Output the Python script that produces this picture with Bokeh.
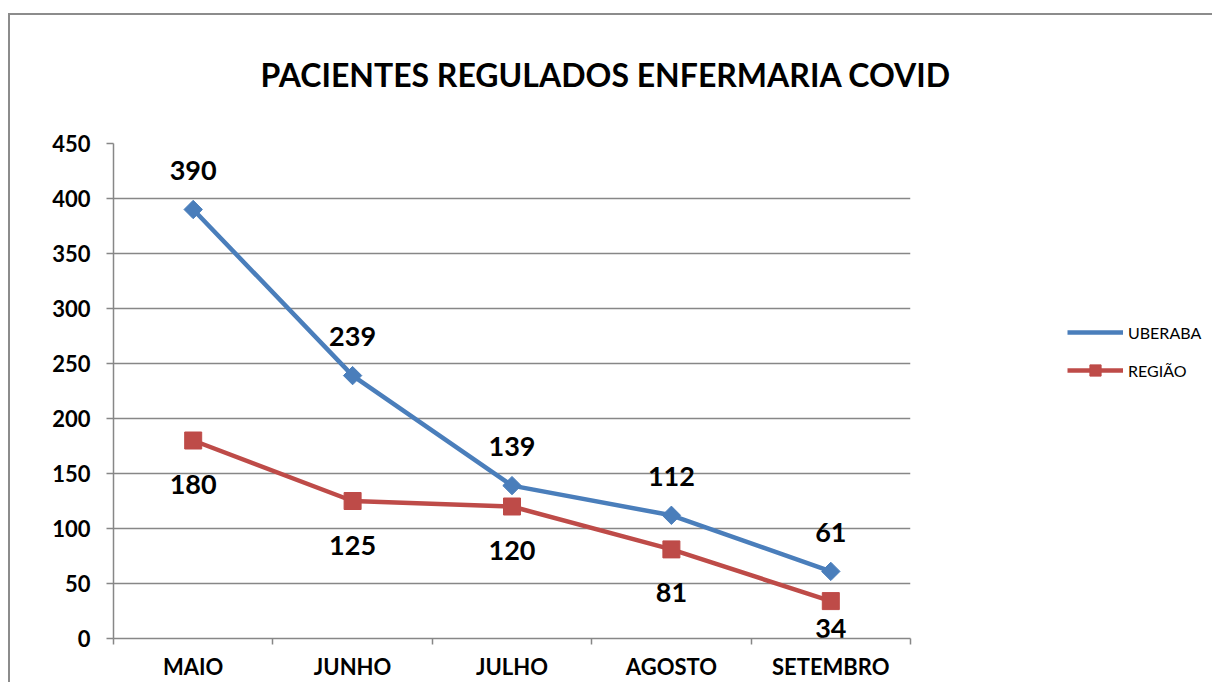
import math
from bokeh.plotting import figure
from bokeh.models import Range1d, FixedTicker, Legend, LegendItem, Title
from bokeh.core.properties import value
from bokeh.embed import file_html
from bokeh.resources import INLINE

# ---- data ----
months = ["MAIO", "JUNHO", "JULHO", "AGOSTO", "SETEMBRO"]
uberaba = [390, 239, 139, 112, 61]
regiao = [180, 125, 120, 81, 34]
y_ticks = [0, 50, 100, 150, 200, 250, 300, 350, 400, 450]
series_names = ["UBERABA", "REGIÃO"]
title_text = "PACIENTES REGULADOS ENFERMARIA COVID"

# ---- style ----
BLUE = "#4a7ebb"
RED = "#be4b48"
GRID = "#878787"
FONT = "Lato"
blue_label_offsets = [-39, -39, -39, -39, -39]
red_label_offsets = [44, 44, 44, 43, 27]

xs = [i + 0.5 for i in range(len(months))]

p = figure(frame_width=797, frame_height=495,
           x_range=Range1d(0, len(months)), y_range=Range1d(0, 450),
           output_backend="svg", toolbar_location=None,
           min_border_left=103, min_border_right=302,
           min_border_top=128, min_border_bottom=44)
p.margin = (13, 0, 0, 8)
p.styles = {"border-top": "2px solid #8c8c8c", "border-left": "2px solid #8c8c8c"}
p.background_fill_color = "white"
p.border_fill_color = "white"
p.outline_line_color = None

# grid
p.xgrid.grid_line_color = None
p.ygrid.ticker = FixedTicker(ticks=y_ticks)
p.ygrid.grid_line_color = GRID
p.ygrid.grid_line_width = 1.5

# y axis
p.yaxis.ticker = FixedTicker(ticks=y_ticks)
p.yaxis.axis_line_color = GRID
p.yaxis.axis_line_width = 1.5
p.yaxis.major_tick_line_color = GRID
p.yaxis.major_tick_line_width = 1.5
p.yaxis.major_tick_out = 7
p.yaxis.major_tick_in = 0
p.yaxis.minor_tick_line_color = None
p.yaxis.major_label_standoff = 16
p.yaxis.major_label_text_font = FONT
p.yaxis.major_label_text_font_style = "bold"
p.yaxis.major_label_text_font_size = "22px"
p.yaxis.major_label_text_color = "black"

# x axis: labels at centres, tick marks at category boundaries
p.xaxis.ticker = FixedTicker(ticks=xs, minor_ticks=list(range(len(months) + 1)))
p.xaxis.major_label_overrides = {x: m for x, m in zip(xs, months)}
p.xaxis.axis_line_color = GRID
p.xaxis.axis_line_width = 1.5
p.xaxis.major_tick_line_color = None
p.xaxis.minor_tick_line_color = GRID
p.xaxis.minor_tick_line_width = 1.5
p.xaxis.minor_tick_out = 6
p.xaxis.minor_tick_in = 0
p.xaxis.major_label_standoff = 8
p.xaxis.major_label_text_font = FONT
p.xaxis.major_label_text_font_style = "bold"
p.xaxis.major_label_text_font_size = "22px"
p.xaxis.major_label_text_color = "black"

# series
l1 = p.line(xs, uberaba, line_color=BLUE, line_width=4.5)
s1 = p.scatter(xs, uberaba, marker="square", angle=math.pi / 4, size=13,
               fill_color=BLUE, line_color=BLUE)
l2 = p.line(xs, regiao, line_color=RED, line_width=4.5)
s2 = p.scatter(xs, regiao, marker="square", size=17, fill_color=RED, line_color=RED)
# legend-only marker style for the diamond series
s1_key = p.scatter([], [], marker="diamond", size=14, fill_color=BLUE, line_color=BLUE)

# data labels
p.text(xs, uberaba, text=[str(v) for v in uberaba], y_offset=blue_label_offsets,
       text_align="center", text_baseline="middle", text_font=value(FONT),
       text_font_style="bold", text_font_size="27px", text_color="black")
p.text(xs, regiao, text=[str(v) for v in regiao], y_offset=red_label_offsets,
       text_align="center", text_baseline="middle", text_font=value(FONT),
       text_font_style="bold", text_font_size="27px", text_color="black")

# legend (right side panel)
legend = Legend(items=[LegendItem(label=series_names[0], renderers=[l1, s1_key]),
                       LegendItem(label=series_names[1], renderers=[l2, s2])],
                location=(157, 254), orientation="vertical",
                glyph_width=56, glyph_height=28, label_height=28, spacing=10,
                label_standoff=5, padding=0, margin=0,
                border_line_color=None, background_fill_alpha=0,
                label_text_font=FONT, label_text_font_size="16px",
                label_text_color="black")
p.add_layout(legend, "right")

# spacer between title and plot area
p.add_layout(Title(text=" ", text_font_size="2px", standoff=6), "above")

# title
p.title = Title(text=title_text, align="left", offset=147, text_font=FONT,
                text_font_style="bold", text_font_size="32px", text_color="black",
                vertical_align="top", standoff=76)

open("out.html", "w").write(file_html(p, INLINE))
